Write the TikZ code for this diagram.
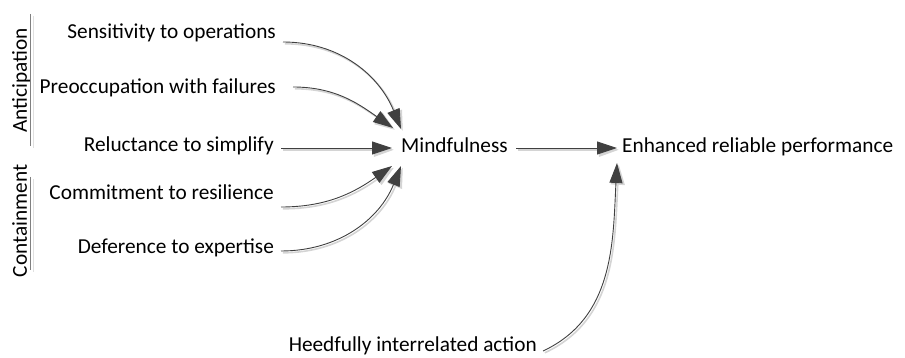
\documentclass[tikz,border=0pt]{standalone}
\usepackage{fontspec}
\setmainfont{Carlito}
\usetikzlibrary{arrows.meta}
\definecolor{lnc}{HTML}{404040}
\definecolor{shd}{HTML}{D4D4D4}
\tikzset{
  lbl/.style={inner sep=0pt, font=\fontsize{21.3}{25}\selectfont},
  conn/.style={draw=lnc, line width=0.9pt,
    -{Triangle[length=20pt,width=13pt]},
    preaction={draw=shd, line width=1.6pt, -{Triangle[length=20pt,width=14pt]},
      transform canvas={shift={(1.8pt,-1.8pt)}}}},
  brk/.style={draw=black!50, line width=1pt},
  brkshd/.style={draw=black!12, line width=1pt},
}
\begin{document}
\begin{tikzpicture}[x=1pt,y=-1pt]
\useasboundingbox (0,0) rectangle (905,358);
% left group labels
\node[lbl, rotate=90, anchor=base] (antic) at (27,80.5) {Anticipation};
\node[lbl, rotate=90, anchor=base] (contain) at (27,221) {Containment};
\draw[brkshd] (33,16) -- (33,148);
\draw[brk] (30,14) -- (30,146);
\draw[brkshd] (33,179) -- (33,272);
\draw[brk] (30,177) -- (30,270);
% source labels
\node[lbl, anchor=base east] (sens) at (276,39) {Sensitivity to operations};
\node[lbl, anchor=base east] (preo) at (276,94) {Preoccupation with failures};
\node[lbl, anchor=base east] (relu) at (274,152) {Reluctance to simplify};
\node[lbl, anchor=base east] (comm) at (274,200) {Commitment to resilience};
\node[lbl, anchor=base east] (defe) at (274,254) {Deference to expertise};
\node[lbl, anchor=base west] (mind) at (401,153) {Mindfulness};
\node[lbl, anchor=base west] (enh) at (622,153) {Enhanced reliable performance};
\node[lbl, anchor=base east] (heed) at (537,351) {Heedfully interrelated action};
% connector end points
\coordinate (sensS) at (283,42);
\coordinate (preoS) at (293,87);
\coordinate (reluS) at (281,148);
\coordinate (commS) at (281,207);
\coordinate (defeS) at (281,251);
\coordinate (mindS) at (516,148);
\coordinate (heedS) at (543,351);
\coordinate (mSens) at (401,129);
\coordinate (mPreo) at (393,128);
\coordinate (mRelu) at (392,148);
\coordinate (mComm) at (392,166);
\coordinate (mDefe) at (401,166);
\coordinate (eMind) at (617,148);
\coordinate (eHeed) at (617,163);
% connectors
\draw[conn] (sensS) to[out=0,in=112] (mSens);
\draw[conn] (preoS) to[out=0,in=145] (mPreo);
\draw[conn] (reluS) -- (mRelu);
\draw[conn] (commS) to[out=0,in=-145] (mComm);
\draw[conn] (defeS) to[out=0,in=-112] (mDefe);
\draw[conn] (mindS) -- (eMind);
\draw[conn] (heedS) to[out=25,in=-93] (eHeed);
\end{tikzpicture}
\end{document}
